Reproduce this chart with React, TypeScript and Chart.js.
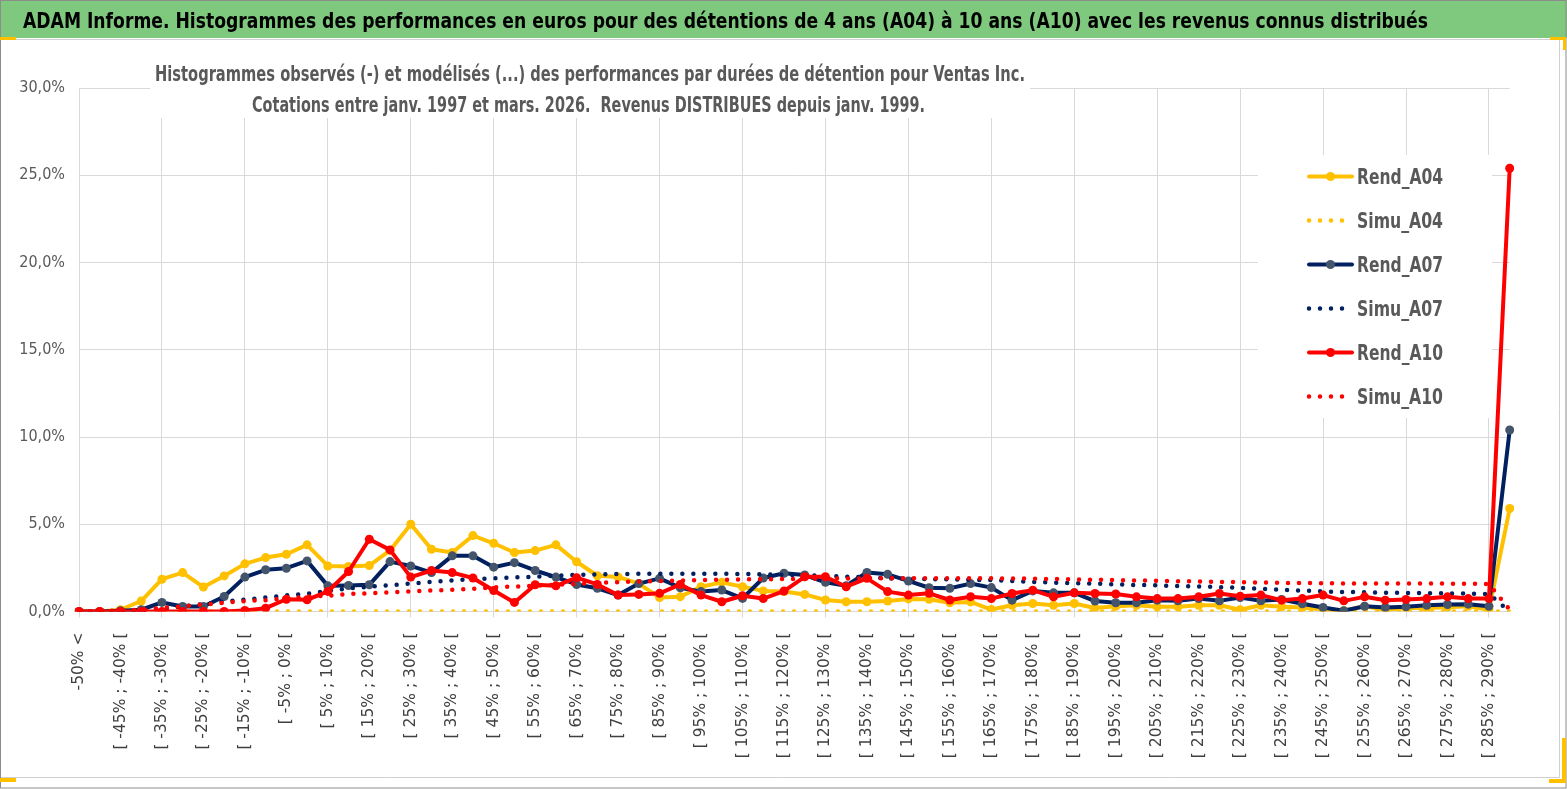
import React, { useEffect, useRef } from "react";
import { Chart, registerables } from "chart.js";

Chart.register(...registerables);

const W = 1567;
const H = 789;

const TITLE =
  "ADAM Informe. Histogrammes des performances en euros pour des détentions de 4 ans (A04) à 10 ans (A10) avec les revenus connus distribués";
const SUBTITLE_1 =
  "Histogrammes observés (-) et modélisés (...) des performances par durées de détention pour Ventas Inc.";
const SUBTITLE_2 =
  "Cotations entre janv. 1997 et mars. 2026.  Revenus DISTRIBUES depuis janv. 1999.";

const CATEGORIES: string[] = [
  "-50% <",
  "[ -50% ; -45% [", "[ -45% ; -40% [", "[ -40% ; -35% [", "[ -35% ; -30% [",
  "[ -30% ; -25% [", "[ -25% ; -20% [", "[ -20% ; -15% [", "[ -15% ; -10% [",
  "[ -10% ; -5% [", "[ -5% ; 0% [", "[ 0% ; 5% [", "[ 5% ; 10% [",
  "[ 10% ; 15% [", "[ 15% ; 20% [", "[ 20% ; 25% [", "[ 25% ; 30% [",
  "[ 30% ; 35% [", "[ 35% ; 40% [", "[ 40% ; 45% [", "[ 45% ; 50% [",
  "[ 50% ; 55% [", "[ 55% ; 60% [", "[ 60% ; 65% [", "[ 65% ; 70% [",
  "[ 70% ; 75% [", "[ 75% ; 80% [", "[ 80% ; 85% [", "[ 85% ; 90% [",
  "[ 90% ; 95% [", "[ 95% ; 100% [", "[ 100% ; 105% [", "[ 105% ; 110% [",
  "[ 110% ; 115% [", "[ 115% ; 120% [", "[ 120% ; 125% [", "[ 125% ; 130% [",
  "[ 130% ; 135% [", "[ 135% ; 140% [", "[ 140% ; 145% [", "[ 145% ; 150% [",
  "[ 150% ; 155% [", "[ 155% ; 160% [", "[ 160% ; 165% [", "[ 165% ; 170% [",
  "[ 170% ; 175% [", "[ 175% ; 180% [", "[ 180% ; 185% [", "[ 185% ; 190% [",
  "[ 190% ; 195% [", "[ 195% ; 200% [", "[ 200% ; 205% [", "[ 205% ; 210% [",
  "[ 210% ; 215% [", "[ 215% ; 220% [", "[ 220% ; 225% [", "[ 225% ; 230% [",
  "[ 230% ; 235% [", "[ 235% ; 240% [", "[ 240% ; 245% [", "[ 245% ; 250% [",
  "[ 250% ; 255% [", "[ 255% ; 260% [", "[ 260% ; 265% [", "[ 265% ; 270% [",
  "[ 270% ; 275% [", "[ 275% ; 280% [", "[ 280% ; 285% [", "[ 285% ; 290% [",
  "290% <=",
];

const REND_A04: number[] = [
  0, 0, 0.1, 0.6, 1.85, 2.23, 1.4, 2.04, 2.73, 3.09,
  3.28, 3.82, 2.61, 2.58, 2.63, 3.5, 5.0, 3.57, 3.38, 4.35,
  3.91, 3.38, 3.49, 3.82, 2.85, 2.05, 1.98, 1.6, 0.8, 0.85,
  1.42, 1.67, 1.42, 1.18, 1.14, 0.98, 0.66, 0.56, 0.56, 0.6,
  0.72, 0.7, 0.5, 0.55, 0.11, 0.36, 0.46, 0.36, 0.46, 0.2,
  0.3, 0.36, 0.27, 0.27, 0.36, 0.36, 0.1, 0.36, 0.27, 0.23,
  0.11, 0.05, 0.3, 0.1, 0.2, 0.2, 0.25, 0.3, 0.1, 5.9,
];

const SIMU_A04: number[] = [
  0, 0, 0, 0, 0, 0, 0, 0, 0, 0,
  0, 0, 0, 0, 0, 0, 0, 0, 0, 0,
  0, 0, 0, 0, 0, 0, 0, 0, 0, 0,
  0, 0, 0, 0, 0, 0, 0, 0, 0, 0,
  0, 0, 0, 0, 0, 0, 0, 0, 0, 0,
  0, 0, 0, 0, 0, 0, 0, 0, 0, 0,
  0, 0, 0, 0, 0, 0, 0, 0, 0, 0,
];

const REND_A07: number[] = [
  0, 0, 0.05, 0.1, 0.52, 0.29, 0.29, 0.86, 1.97, 2.39,
  2.48, 2.9, 1.47, 1.49, 1.53, 2.86, 2.61, 2.23, 3.19, 3.19,
  2.54, 2.8, 2.35, 1.97, 1.55, 1.33, 0.94, 1.6, 1.9, 1.36,
  1.14, 1.23, 0.75, 1.92, 2.19, 2.09, 1.67, 1.48, 2.24, 2.13,
  1.75, 1.36, 1.33, 1.6, 1.37, 0.65, 1.18, 1.07, 1.07, 0.6,
  0.5, 0.5, 0.65, 0.61, 0.74, 0.61, 0.8, 0.61, 0.69, 0.44,
  0.23, 0.04, 0.3, 0.23, 0.27, 0.36, 0.4, 0.42, 0.3, 10.4,
];

const SIMU_A07: number[] = [
  0, 0.01, 0.03, 0.08, 0.15, 0.3, 0.42, 0.58, 0.68, 0.8,
  0.92, 1.02, 1.18, 1.32, 1.42, 1.5, 1.6, 1.7, 1.78, 1.85,
  1.9, 1.95, 2.0, 2.05, 2.1, 2.12, 2.15, 2.16, 2.17, 2.17,
  2.17, 2.16, 2.15, 2.13, 2.1, 2.08, 2.05, 2.0, 1.95, 1.9,
  1.88, 1.86, 1.84, 1.82, 1.8, 1.75, 1.7, 1.65, 1.62, 1.6,
  1.55, 1.52, 1.5, 1.46, 1.43, 1.4, 1.35, 1.3, 1.25, 1.2,
  1.15, 1.12, 1.1, 1.08, 1.06, 1.05, 1.04, 1.03, 1.0, 0,
];

const REND_A10: number[] = [
  0, 0, 0, 0, 0, 0, 0, 0, 0.06, 0.19,
  0.7, 0.67, 1.15, 2.29, 4.14, 3.53, 1.97, 2.35, 2.23, 1.92,
  1.2, 0.52, 1.53, 1.47, 1.94, 1.55, 0.94, 0.98, 1.04, 1.55,
  0.94, 0.56, 0.9, 0.74, 1.17, 1.99, 1.99, 1.42, 1.9, 1.14,
  0.94, 1.04, 0.66, 0.85, 0.74, 1.03, 1.22, 0.84, 1.07, 1.03,
  1.0, 0.84, 0.74, 0.74, 0.84, 1.03, 0.88, 0.94, 0.65, 0.74,
  0.94, 0.61, 0.84, 0.65, 0.69, 0.74, 0.84, 0.74, 0.74, 25.4,
];

const SIMU_A10: number[] = [
  0, 0.02, 0.05, 0.1, 0.2, 0.3, 0.4, 0.5, 0.6, 0.65,
  0.75, 0.85, 0.9, 1.0, 1.05, 1.1, 1.15, 1.2, 1.25, 1.3,
  1.38, 1.43, 1.48, 1.53, 1.58, 1.64, 1.68, 1.72, 1.75, 1.78,
  1.8, 1.82, 1.84, 1.85, 1.86, 1.87, 1.88, 1.89, 1.9, 1.9,
  1.9, 1.9, 1.9, 1.9, 1.9, 1.89, 1.88, 1.86, 1.84, 1.82,
  1.8, 1.78, 1.76, 1.74, 1.72, 1.7, 1.68, 1.66, 1.64, 1.63,
  1.62, 1.61, 1.61, 1.6, 1.6, 1.6, 1.6, 1.59, 1.58, 0.1,
];

const Y_TICKS_MAX = 30;
const Y_TICK_STEP = 5;

const AMBER = "#FFC000";
const NAVY = "#002060";
const NAVY_MARKER = "#44546A";
const RED = "#FF0000";
const TEXT_GRAY = "#595959";
const GRID = "#D9D9D9";

const NARROW = '"Liberation Sans Narrow", "DejaVu Sans Condensed", "Open Sans", sans-serif';

function fittedText(
  ctx: CanvasRenderingContext2D,
  text: string,
  x: number,
  y: number,
  width: number,
  align: "left" | "center"
) {
  const w = ctx.measureText(text).width;
  const sx = width / w;
  ctx.save();
  ctx.translate(align === "center" ? x - width / 2 : x, y);
  ctx.scale(sx, 1);
  ctx.textAlign = "left";
  ctx.fillText(text, 0, 0);
  ctx.restore();
}

const framePlugin = {
  id: "framePlugin",
  beforeDraw(chart: any) {
    const ctx: CanvasRenderingContext2D = chart.ctx;
    ctx.save();
    ctx.fillStyle = "#FFFFFF";
    ctx.fillRect(0, 0, W, H);
    // green title bar
    ctx.fillStyle = "#7FC97F";
    ctx.fillRect(0, 0, W, 38);
    ctx.fillStyle = "#000000";
    ctx.font = `bold 21.5px ${NARROW}`;
    ctx.textBaseline = "alphabetic";
    fittedText(ctx, TITLE, 23, 27.5, 1405, "left");
    // frames
    ctx.strokeStyle = "#D0D0D0";
    ctx.lineWidth = 1;
    ctx.beginPath();
    ctx.moveTo(0, 39.5);
    ctx.lineTo(1559.5, 39.5);
    ctx.lineTo(1559.5, 777.5);
    ctx.lineTo(0, 777.5);
    ctx.stroke();
    ctx.strokeStyle = "#8C8C8C";
    ctx.strokeRect(0.5, 0.5, W - 1.5, H - 1.5);
    // yellow corner marks
    ctx.fillStyle = AMBER;
    ctx.fillRect(0, 37, 16, 3);
    ctx.fillRect(1550, 37, 16, 3);
    ctx.fillRect(1563, 37, 3, 13);
    ctx.fillRect(0, 778, 16, 4);
    ctx.fillRect(1549, 779, 17, 4);
    ctx.fillRect(1562, 738, 4, 45);
    ctx.restore();
  },
  afterDraw(chart: any) {
    const ctx: CanvasRenderingContext2D = chart.ctx;
    ctx.save();
    // subtitle box
    ctx.fillStyle = "#FFFFFF";
    ctx.fillRect(150, 58, 880, 60);
    ctx.fillStyle = TEXT_GRAY;
    ctx.font = `bold 21px ${NARROW}`;
    ctx.textBaseline = "alphabetic";
    fittedText(ctx, SUBTITLE_1, 590, 80.5, 870, "center");
    fittedText(ctx, SUBTITLE_2, 588.5, 112, 673, "center");

    // legend box
    ctx.fillStyle = "#FFFFFF";
    ctx.fillRect(1258, 155, 234, 263);
    const datasets = chart.data.datasets;
    datasets.forEach((ds: any, i: number) => {
      const cy = 176.5 + i * 44;
      ctx.save();
      ctx.strokeStyle = ds.borderColor;
      ctx.lineWidth = ds.borderWidth;
      if (ds.borderDash && ds.borderDash.length) {
        ctx.setLineDash(ds.borderDash);
        ctx.lineCap = "round";
        ctx.beginPath();
        ctx.moveTo(1309, cy);
        ctx.lineTo(i === 5 ? 1353 : 1344, cy);
        ctx.stroke();
      } else {
        ctx.lineCap = "round";
        ctx.beginPath();
        ctx.moveTo(1309, cy);
        ctx.lineTo(1352, cy);
        ctx.stroke();
        ctx.fillStyle = ds.pointBackgroundColor;
        ctx.beginPath();
        ctx.arc(1330.5, cy, ds.pointRadius, 0, Math.PI * 2);
        ctx.fill();
      }
      ctx.restore();
      ctx.fillStyle = TEXT_GRAY;
      ctx.font = `bold 21px ${NARROW}`;
      fittedText(ctx, ds.label, 1357, cy + 7.5, 86, "left");
    });
    ctx.restore();
  },
};

function solid(label: string, data: number[], color: string, marker: string, order: number) {
  return {
    label,
    data,
    borderColor: color,
    backgroundColor: color,
    borderWidth: 4,
    pointRadius: 4.5,
    pointBackgroundColor: marker,
    pointBorderColor: marker,
    pointBorderWidth: 0,
    borderJoinStyle: "round" as const,
    borderCapStyle: "round" as const,
    tension: 0,
    order,
  };
}

function dotted(label: string, data: number[], color: string, order: number) {
  return {
    label,
    data,
    borderColor: color,
    backgroundColor: color,
    borderWidth: 4.5,
    borderDash: [0, 11],
    borderCapStyle: "round" as const,
    pointRadius: 0,
    pointBackgroundColor: color,
    tension: 0,
    order,
  };
}

export default function App() {
  const ref = useRef<HTMLCanvasElement | null>(null);

  useEffect(() => {
    document.body.style.margin = "0";
    const canvas = ref.current;
    if (!canvas) return;
    const chart = new Chart(canvas, {
      type: "line",
      data: {
        labels: CATEGORIES,
        datasets: [
          solid("Rend_A04", REND_A04, AMBER, AMBER, 5),
          dotted("Simu_A04", SIMU_A04, AMBER, 4),
          solid("Rend_A07", REND_A07, NAVY, NAVY_MARKER, 3),
          dotted("Simu_A07", SIMU_A07, NAVY, 2),
          solid("Rend_A10", REND_A10, RED, RED, 1),
          dotted("Simu_A10", SIMU_A10, RED, 0),
        ] as any,
      },
      options: {
        responsive: false,
        animation: false,
        devicePixelRatio: 1,
        layout: { padding: { left: 0, top: 88, right: 57.3, bottom: 0 } },
        plugins: {
          legend: { display: false },
          title: { display: false },
          tooltip: { enabled: false },
        },
        scales: {
          x: {
            type: "category",
            offset: false,
            border: { display: false },
            grid: {
              color: (c: any) => (c.index % 4 === 0 ? GRID : "rgba(0,0,0,0)"),
              lineWidth: 1,
              tickLength: 6,
              drawTicks: true,
            },
            ticks: {
              autoSkip: false,
              minRotation: 90,
              maxRotation: 90,
              padding: 15,
              color: "#404040",
              font: { family: '"DejaVu Sans", sans-serif', size: 15.5 },
              callback: function (this: any, v: any, i: number) {
                return i % 2 === 0 ? this.getLabelForValue(v) : "";
              },
            },
            afterFit: (s: any) => {
              s.height = H - 611.5;
            },
          },
          y: {
            min: 0,
            max: Y_TICKS_MAX,
            border: { display: false },
            grid: { color: GRID, lineWidth: 1, drawTicks: false },
            ticks: {
              stepSize: Y_TICK_STEP,
              padding: 14,
              color: TEXT_GRAY,
              font: { family: NARROW, size: 16 },
              callback: (v: any) => Number(v).toFixed(1).replace(".", ",") + "%",
            },
            afterFit: (s: any) => {
              s.width = 79;
            },
          },
        },
      } as any,
      plugins: [framePlugin],
    });
    return () => chart.destroy();
  }, []);

  return (
    <div style={{ width: W, height: H, position: "relative", overflow: "hidden" }}>
      <canvas ref={ref} width={W} height={H} style={{ width: W, height: H, display: "block" }} />
    </div>
  );
}
